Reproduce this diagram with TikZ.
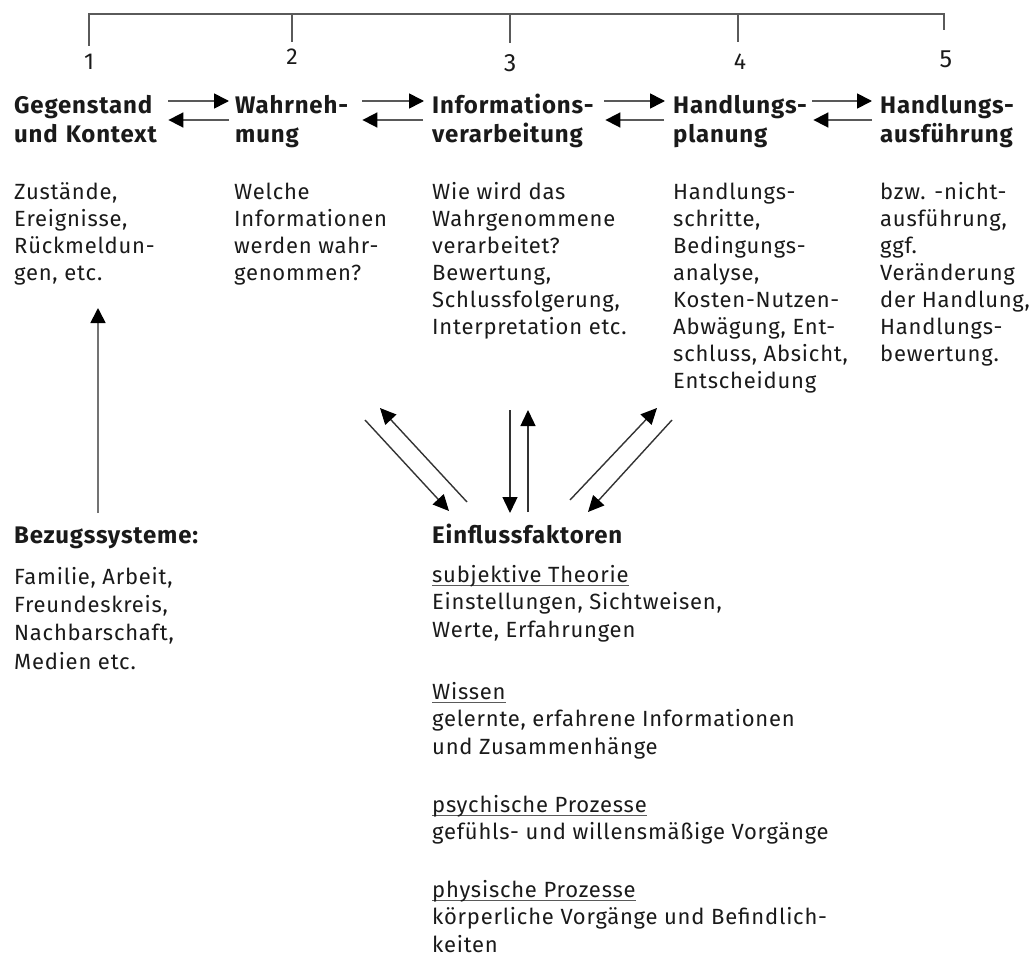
\documentclass[tikz,border=0pt]{standalone}
\usepackage{fontspec}
\setmainfont{Fira Sans}[LetterSpace=3.5]
\usetikzlibrary{arrows.meta}
\definecolor{linegray}{HTML}{5A5A5A}
\definecolor{txt}{HTML}{1A1A1A}
\newcommand{\ulgray}[1]{\setbox0\hbox{#1}\rlap{\textcolor{linegray}{\rule[-4pt]{\wd0}{1.5pt}}}\box0}
\begin{document}
\begin{tikzpicture}[x=1pt,y=-1pt,
  body/.style={anchor=north west, inner sep=0pt, align=left, text=txt, font=\fontsize{22}{27.1}\selectfont},
  bodyb/.style={body, font=\fontsize{22}{27.6}\selectfont},
  head/.style={anchor=north west, inner sep=0pt, align=left, text=txt, font=\fontsize{24}{29.5}\selectfont\bfseries},
  num/.style={anchor=base, inner sep=0pt, text=txt, font=\fontsize{23}{26}\selectfont},
  bracket/.style={draw=linegray, line width=1.8pt},
  arr/.style={draw=black!65, line width=1.7pt, -{Triangle[length=15pt,width=15pt,color=black]}},
  darr/.style={draw=black!80, line width=1.4pt, -{Triangle[length=16pt,width=15pt,color=black]}}]
\useasboundingbox (0,0) rectangle (1029,958);

% bracket and numbers
\draw[bracket] (89,46) -- (89,14) -- (944,14) -- (944,30);
\draw[bracket] (292,14) -- (292,42);
\draw[bracket] (510,14) -- (510,43);
\draw[bracket] (738,14) -- (738,42);
\node[num] (n1) at (89,70) {1};
\node[num] (n2) at (292,65) {2};
\node[num, font=\fontsize{25}{28}\selectfont] (n3) at (510,72) {3};
\node[num] (n4) at (740,70) {4};
\node[num, font=\fontsize{25}{28}\selectfont] (n5) at (946,68) {5};

% headings
\node[head, text width=154pt] (h1) at (14,92.35) {\strut\mbox{Gegenstand}\\\mbox{und Kontext}};
\node[head, text width=127pt] (h2) at (235,92.35) {\strut\mbox{Wahrneh-}\\\mbox{mung}};
\node[head, text width=172pt] (h3) at (432,92.35) {\strut\mbox{Informations-}\\\mbox{verarbeitung}};
\node[head, text width=139pt] (h4) at (673,92.35) {\strut\mbox{Handlungs-}\\\mbox{planung}};
\node[head, text width=147pt] (h5) at (880,92.35) {\strut\mbox{Handlungs-}\\\mbox{ausführung}};

\draw[arr] ([yshift=-8.65pt]h1.north east) -- ([xshift=-6pt,yshift=-8.65pt]h2.north west);
\draw[arr] ([xshift=-6pt,yshift=-27.65pt]h2.north west) -- ([yshift=-27.65pt]h1.north east);
\draw[arr] ([yshift=-8.65pt]h2.north east) -- ([xshift=-8pt,yshift=-8.65pt]h3.north west);
\draw[arr] ([xshift=-9pt,yshift=-27.65pt]h3.north west) -- ([yshift=-27.65pt]h2.north east);
\draw[arr] ([yshift=-8.65pt]h3.north east) -- ([xshift=-8pt,yshift=-8.65pt]h4.north west);
\draw[arr] ([xshift=-9pt,yshift=-27.65pt]h4.north west) -- ([xshift=1pt,yshift=-27.65pt]h3.north east);
\draw[arr] ([yshift=-8.65pt]h4.north east) -- ([xshift=-8pt,yshift=-8.65pt]h5.north west);
\draw[arr] ([xshift=-8pt,yshift=-27.65pt]h5.north west) -- ([xshift=1pt,yshift=-27.65pt]h4.north east);

% descriptions
\node[body] (d1) at (14,180) {\strut Zustände,\\Ereignisse,\\Rückmeldun-\\gen, etc.};
\node[body] (d2) at (234,180) {\strut Welche\\Informationen\\werden wahr-\\genommen?};
\node[body] (d3) at (432,180) {\strut Wie wird das\\Wahrgenommene\\verarbeitet?\\Bewertung,\\Schlussfolgerung,\\Interpretation etc.};
\node[body] (d4) at (673,180) {\strut Handlungs-\\schritte,\\Bedingungs-\\analyse,\\Kosten-Nutzen-\\Abwägung, Ent-\\schluss, Absicht,\\Entscheidung};
\node[body] (d5) at (880,180) {\strut bzw. -nicht-\\ausführung,\\ggf.\\Veränderung\\der Handlung,\\Handlungs-\\bewertung.};

% Bezugssysteme
\node[head] (bz) at (14,522.35) {\strut Bezugssysteme:};
\node[body, font=\fontsize{22}{28.3}\selectfont] (bzl) at (14,564.2) {\strut Familie, Arbeit,\\Freundeskreis,\\Nachbarschaft,\\Medien etc.};
\coordinate (bzup) at (98,513);
\coordinate (d1low) at (98,308);
\draw[arr, draw=black!55] (bzup) -- (d1low);

% Einflussfaktoren
\node[head] (ef) at (432,522.35) {\strut Einflussfaktoren};
\node[bodyb] (g1) at (432,562.7) {\strut\ulgray{subjektive Theorie}\\Einstellungen, Sichtweisen,\\Werte, Erfahrungen};
\node[bodyb] (g2) at (432,679.7) {\strut\ulgray{Wissen}\\gelernte, erfahrene Informationen\\und Zusammenhänge};
\node[bodyb] (g3) at (432,792.7) {\strut\ulgray{psychische Prozesse}\\gefühls- und willensmäßige Vorgänge};
\node[bodyb] (g4) at (432,877.7) {\strut\ulgray{physische Prozesse}\\körperliche Vorgänge und Befindlich-\\keiten};

% influence arrows
\coordinate (la1) at (365,420); \coordinate (la2) at (449,511);
\coordinate (lb1) at (467,502); \coordinate (lb2) at (380,408);
\coordinate (va1) at (510,410); \coordinate (va2) at (510,513);
\coordinate (vb1) at (528,512); \coordinate (vb2) at (528,410);
\coordinate (ra1) at (570,500); \coordinate (ra2) at (657,408);
\coordinate (rb1) at (672,420); \coordinate (rb2) at (588,512);
\draw[darr] (la1) -- (la2);
\draw[darr] (lb1) -- (lb2);
\draw[darr] (va1) -- (va2);
\draw[darr] (vb1) -- (vb2);
\draw[darr] (ra1) -- (ra2);
\draw[darr] (rb1) -- (rb2);
\end{tikzpicture}
\end{document}
